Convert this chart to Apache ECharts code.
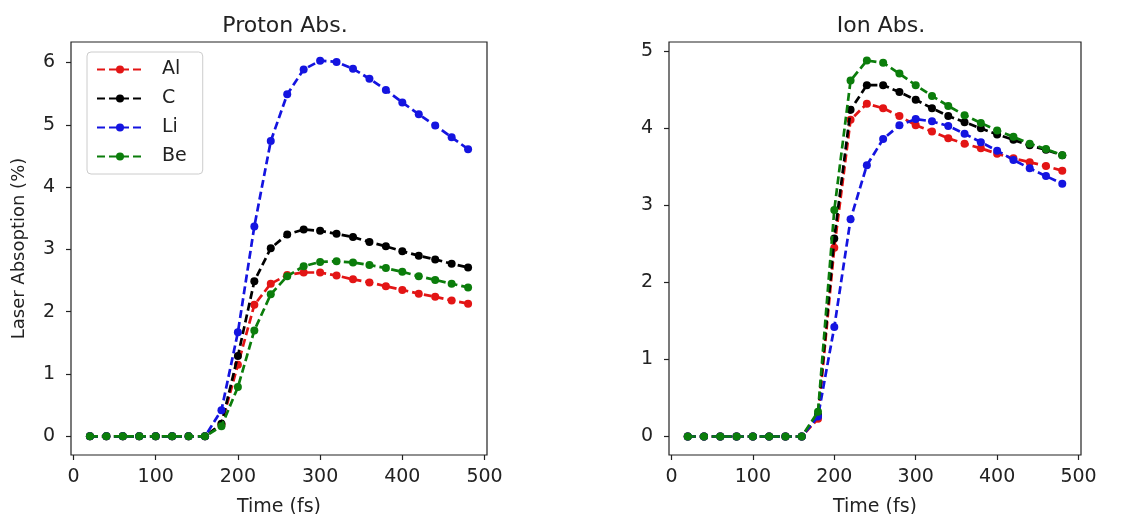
<!DOCTYPE html>
<html><head><meta charset="utf-8">
<script src="https://cdn.jsdelivr.net/npm/echarts@6/dist/echarts.min.js"></script>
<style>html,body{margin:0;padding:0;background:#fff}#c{width:1145px;height:514px}</style>
</head><body><div id="c"></div>
<script>
const times = [20,40,60,80,100,120,140,160,180,200,220,240,260,280,300,320,340,360,380,400,420,440,460,480];
const seriesNames = ['Al','C','Li','Be'];
const seriesColors = ['#e31515','#000000','#1414e0','#0b7d0b'];
const xTicks = [0,100,200,300,400,500];
const protonTicks = [0,1,2,3,4,5,6];
const ionTicks = [0,1,2,3,4,5];

// Proton absorption (%)
const protonAl = [0,0,0,0,0,0,0,0,0.19,1.15,2.11,2.45,2.59,2.63,2.63,2.58,2.52,2.47,2.41,2.35,2.29,2.24,2.18,2.13];
const protonC  = [0,0,0,0,0,0,0,0,0.20,1.29,2.49,3.02,3.24,3.32,3.30,3.25,3.20,3.12,3.05,2.97,2.90,2.84,2.77,2.71];
const protonLi = [0,0,0,0,0,0,0,0,0.42,1.67,3.37,4.74,5.49,5.89,6.03,6.01,5.90,5.74,5.56,5.36,5.17,4.99,4.80,4.61];
const protonBe = [0,0,0,0,0,0,0,0,0.16,0.79,1.70,2.28,2.57,2.73,2.80,2.81,2.79,2.75,2.70,2.64,2.57,2.51,2.45,2.39];

// Ion absorption (%)
const ionAl = [0,0,0,0,0,0,0,0,0.23,2.45,4.11,4.32,4.26,4.16,4.04,3.96,3.87,3.80,3.74,3.67,3.61,3.56,3.51,3.45];
const ionC  = [0,0,0,0,0,0,0,0,0.28,2.57,4.24,4.56,4.56,4.47,4.37,4.26,4.16,4.08,4.00,3.92,3.85,3.78,3.72,3.65];
const ionLi = [0,0,0,0,0,0,0,0,0.26,1.42,2.82,3.52,3.86,4.04,4.12,4.09,4.03,3.93,3.82,3.71,3.59,3.48,3.38,3.28];
const ionBe = [0,0,0,0,0,0,0,0,0.32,2.94,4.62,4.88,4.85,4.71,4.56,4.42,4.29,4.17,4.07,3.97,3.89,3.80,3.73,3.65];

const protonData = [protonAl, protonC, protonLi, protonBe];
const ionData = [ionAl, ionC, ionLi, ionBe];

const font = 'DejaVu Sans';
const pair = (arr) => times.map((t,i)=>[t,arr[i]]);

function xAxis(gi){
  return {
    type:'value', gridIndex:gi, min:-3, max:503,
    name:'Time (fs)', nameLocation:'middle', nameGap:43,
    nameTextStyle:{fontFamily:font,fontSize:19,color:'#222'},
    axisLine:{show:false,onZero:false},
    splitLine:{show:false},
    axisTick:{show:true,inside:false,length:5,customValues:xTicks,lineStyle:{color:'#222',width:1.2}},
    axisLabel:{customValues:xTicks,fontFamily:font,fontSize:19,color:'#222',margin:13}
  };
}
function yAxis(gi,min,max,ticks,name){
  return {
    type:'value', gridIndex:gi, min:min, max:max,
    name:name||'', nameLocation:'middle', nameGap:43,
    nameTextStyle:{fontFamily:font,fontSize:18,color:'#222'},
    axisLine:{show:false,onZero:false},
    splitLine:{show:false},
    axisTick:{show:true,inside:false,length:5,customValues:ticks,lineStyle:{color:'#222',width:1.2}},
    axisLabel:{customValues:ticks,fontFamily:font,fontSize:19,color:'#222',margin:16}
  };
}
function mkSeries(dataSets, gi){
  return dataSets.map((d,i)=>({
    type:'line', name:seriesNames[i], xAxisIndex:gi, yAxisIndex:gi,
    data:pair(d), symbol:'circle', symbolSize:8,
    lineStyle:{type:[8,4],width:2.7,color:seriesColors[i]},
    itemStyle:{color:seriesColors[i]},
    showSymbol:true, animation:false, z:2+i
  }));
}

const chart = echarts.init(document.getElementById('c'), null, {renderer:'canvas'});
chart.setOption({
  backgroundColor:'#fff',
  animation:false,
  title:[
    {text:'Proton Abs.', left:280, top:10, textAlign:'center', textStyle:{fontFamily:font,fontSize:22,fontWeight:'normal',color:'#222'}},
    {text:'Ion Abs.', left:876, top:10, textAlign:'center', textStyle:{fontFamily:font,fontSize:22,fontWeight:'normal',color:'#222'}}
  ],
  grid:[
    {left:71, top:42, width:416, height:413, show:true, borderColor:'#222', borderWidth:1.2, backgroundColor:'transparent', containLabel:false, outerBoundsMode:'none'},
    {left:669, top:42, width:412, height:413, show:true, borderColor:'#222', borderWidth:1.2, backgroundColor:'transparent', containLabel:false, outerBoundsMode:'none'}
  ],
  xAxis:[xAxis(0), xAxis(1)],
  yAxis:[yAxis(0,-0.30,6.33,protonTicks,'Laser Absoption (%)'), yAxis(1,-0.24,5.12,ionTicks,'')],
  legend:{
    data:seriesNames, orient:'vertical', left:87, top:52,
    itemWidth:46, itemHeight:10, itemGap:10,
    padding:[8,16,8,9],
    borderColor:'#ccc', borderWidth:1, borderRadius:4,
    backgroundColor:'#fff',
    textStyle:{fontFamily:font,fontSize:19,color:'#222',padding:[0,0,0,14]}
  },
  series:[...mkSeries(protonData,0), ...mkSeries(ionData,1)]
});
</script></body></html>
